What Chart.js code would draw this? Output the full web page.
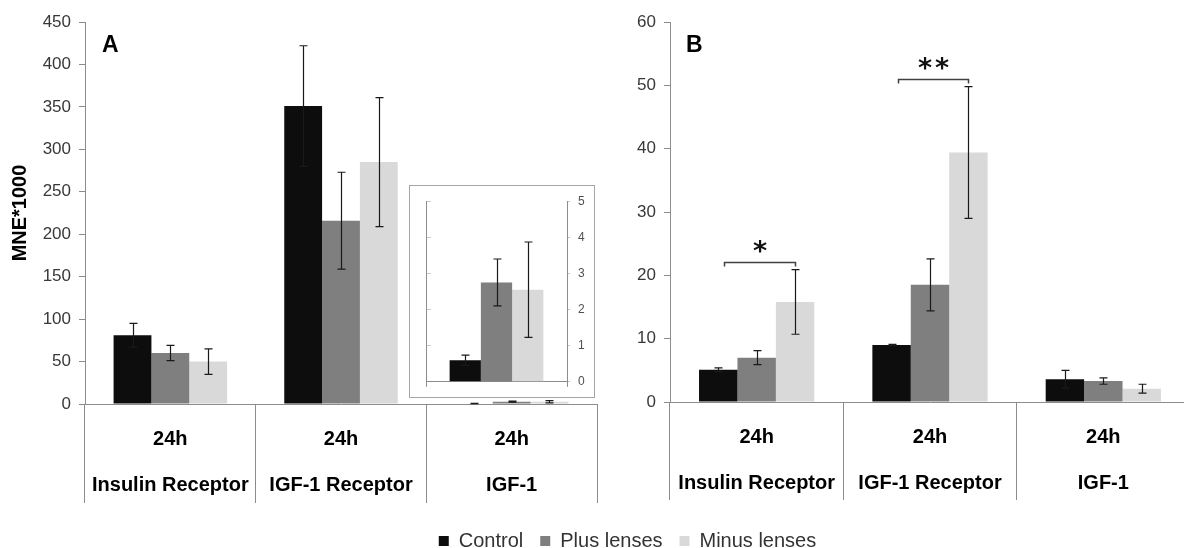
<!DOCTYPE html>
<html>
<head>
<meta charset="utf-8">
<script src="https://cdn.jsdelivr.net/npm/chart.js@4.4.1/dist/chart.umd.min.js"></script>
<style>
  html, body { margin: 0; padding: 0; background: #ffffff; overflow: hidden; width: 1184px; height: 548px; }
  #wrap { position: relative; width: 1184px; height: 548px; overflow: hidden; background: #ffffff; }
  .pane { position: absolute; }
  canvas { display: block; }
</style>
</head>
<body>
<div id="wrap">
  <div class="pane" style="left:0px;top:0px;"><canvas id="panelA" width="620" height="520"></canvas></div>
  <div class="pane" style="left:600px;top:0px;"><canvas id="panelB" width="600" height="520"></canvas></div>
  <div class="pane" style="left:409px;top:185px;border:1px solid #a6a6a6;background:#ffffff;"><canvas id="inset" width="184" height="211"></canvas></div>
  <div class="pane" style="left:240px;top:514px;"><canvas id="legend" width="775" height="90"></canvas></div>
</div>
<script>
// ---- categories and series ----
const categories = [['24h', 'Insulin Receptor'], ['24h', 'IGF-1 Receptor'], ['24h', 'IGF-1']];
const seriesNames = ['Control', 'Plus lenses', 'Minus lenses'];
const seriesColors = ['#0d0d0d', '#7f7f7f', '#d9d9d9'];

// ---- panel A: MNE*1000 (mean and error) ----
const controlA = [81, 351, 0.6];
const plusA = [60, 216, 2.75];
const minusA = [50, 285, 2.55];
const controlErrA = [14, 71, 0.14];
const plusErrA = [9, 57, 0.65];
const minusErrA = [15, 76, 1.32];

// ---- panel B (mean and error) ----
const controlB = [5.1, 9.0, 3.6];
const plusB = [7.0, 18.5, 3.3];
const minusB = [15.8, 39.4, 2.1];
const controlErrB = [0.3, 0.1, 1.4];
const plusErrB = [1.1, 4.1, 0.5];
const minusErrB = [5.1, 10.4, 0.7];

// ---- axis ticks ----
const ticksA = [0, 50, 100, 150, 200, 250, 300, 350, 400, 450];
const ticksB = [0, 10, 20, 30, 40, 50, 60];
const ticksInset = [0, 1, 2, 3, 4, 5];

// ---- significance brackets in panel B (Control vs Minus lenses) ----
const sigCategory = [0, 1];
const sigLevel = [22.1, 51.0];
const sigTextLevel = [24.1, 53.1];
const sigLabel = ['*', '**'];

Chart.defaults.font.family = "'Liberation Sans', Arial, sans-serif";
Chart.defaults.animation = false;
Chart.defaults.responsive = false;
Chart.defaults.events = [];
Chart.defaults.plugins.tooltip.enabled = false;

const AXIS_GREY = '#8c8c8c';

function makeDatasets(values, errors) {
  return seriesNames.map((name, i) => ({
    label: name,
    data: values[i],
    errors: errors[i],
    backgroundColor: seriesColors[i],
    borderWidth: 0,
    categoryPercentage: 0.665,
    barPercentage: 1.0
  }));
}

// vertical error bars with caps, from each dataset's "errors" array
const errorBars = {
  id: 'errorBars',
  afterDatasetsDraw(chart, args, opts) {
    const ctx = chart.ctx;
    ctx.save();
    ctx.strokeStyle = opts.color || '#1a1a1a';
    ctx.lineWidth = opts.width || 1.2;
    chart.data.datasets.forEach((ds, i) => {
      if (!ds.errors) return;
      const meta = chart.getDatasetMeta(i);
      const yScale = chart.scales[meta.yAxisID];
      meta.data.forEach((bar, j) => {
        const v = ds.data[j], e = ds.errors[j];
        const yt = yScale.getPixelForValue(v + e);
        const yb = yScale.getPixelForValue(v - e);
        const x = Math.round(bar.x) + 0.5;
        const c = opts.cap || 4;
        ctx.beginPath();
        ctx.moveTo(x, yt); ctx.lineTo(x, yb);
        ctx.moveTo(x - c, yt); ctx.lineTo(x + c, yt);
        ctx.moveTo(x - c, yb); ctx.lineTo(x + c, yb);
        ctx.stroke();
      });
    });
    ctx.restore();
  }
};

// panel letter in the upper left of the plot area
const panelLetter = {
  id: 'panelLetter',
  afterDraw(chart, args, opts) {
    const ctx = chart.ctx;
    const a = chart.chartArea;
    ctx.save();
    ctx.fillStyle = '#000';
    ctx.font = "bold 23px 'Liberation Sans', Arial, sans-serif";
    ctx.textBaseline = 'middle';
    ctx.textAlign = 'left';
    ctx.fillText(opts.text, a.left + opts.dx, a.top + opts.dy);
    ctx.restore();
  }
};

// brackets with asterisks between Control and Minus lenses
const sigBrackets = {
  id: 'sigBrackets',
  afterDatasetsDraw(chart) {
    const ctx = chart.ctx;
    const y = chart.scales.y;
    const first = chart.getDatasetMeta(0);
    const last = chart.getDatasetMeta(2);
    ctx.save();
    sigCategory.forEach((c, k) => {
      const x1 = Math.round(first.data[c].x + 6) + 0.5;
      const x2 = Math.round(last.data[c].x) + 0.5;
      const yy = Math.round(y.getPixelForValue(sigLevel[k])) + 0.5;
      ctx.strokeStyle = '#404040';
      ctx.lineWidth = 1.5;
      ctx.beginPath();
      ctx.moveTo(x1, yy + 4); ctx.lineTo(x1, yy); ctx.lineTo(x2, yy); ctx.lineTo(x2, yy + 4);
      ctx.stroke();
      ctx.fillStyle = '#111';
      ctx.font = "bold 27px 'DejaVu Sans', sans-serif";
      ctx.textAlign = 'center';
      ctx.textBaseline = 'middle';
      ctx.letterSpacing = sigLabel[k].length > 1 ? '3px' : '0px';
      const tx = (x1 + x2) / 2 + (sigLabel[k].length > 1 ? 1.5 : 0);
      ctx.fillText(sigLabel[k], tx, y.getPixelForValue(sigTextLevel[k]) + 4);
    });
    ctx.restore();
  }
};

function panelOptions(tickValues, leftWidth, bottomHeight, tickLen, showTitle, letter) {
  return {
    layout: { padding: { top: 22, left: 0, right: letter === 'A' ? 23 : 10, bottom: 0 } },
    scales: {
      x: {
        type: 'category',
        offset: true,
        grid: { display: true, offset: true, drawOnChartArea: false, tickLength: tickLen, color: AXIS_GREY, lineWidth: 1 },
        border: { color: AXIS_GREY, width: 1 },
        ticks: {
          autoSkip: false, maxRotation: 0, minRotation: 0,
          padding: 12 - tickLen,
          color: '#000',
          font: { size: 20, weight: 'bold', lineHeight: 2.3 }
        },
        afterFit(s) { s.height = bottomHeight; }
      },
      y: {
        min: tickValues[0],
        max: tickValues[tickValues.length - 1],
        afterBuildTicks(s) { s.ticks = tickValues.map(v => ({ value: v })); },
        grid: { display: true, drawOnChartArea: false, tickLength: 6, color: AXIS_GREY },
        border: { color: AXIS_GREY, width: 1 },
        ticks: { padding: 8, color: '#383838', font: { size: 17 } },
        title: {
          display: showTitle, text: 'MNE*1000', color: '#000',
          font: { size: 20, weight: 'bold' }, padding: { top: 8, bottom: 0 }
        },
        afterFit(s) { s.width = leftWidth; }
      }
    },
    plugins: {
      legend: { display: false },
      errorBars: { cap: 4, color: '#1a1a1a', width: 1.2 },
      panelLetter: { text: letter, dx: letter === 'A' ? 17 : 16, dy: 24 }
    }
  };
}

// Panel A
new Chart(document.getElementById('panelA'), {
  type: 'bar',
  data: {
    labels: categories,
    datasets: makeDatasets([controlA, plusA, minusA], [controlErrA, plusErrA, minusErrA])
  },
  options: panelOptions(ticksA, 85, 520 - 404, 99, true, 'A'),
  plugins: [errorBars, panelLetter]
});

// Panel B
new Chart(document.getElementById('panelB'), {
  type: 'bar',
  data: {
    labels: categories,
    datasets: makeDatasets([controlB, plusB, minusB], [controlErrB, plusErrB, minusErrB])
  },
  options: panelOptions(ticksB, 70, 520 - 402, 98, false, 'B'),
  plugins: [errorBars, panelLetter, sigBrackets]
});

// Inset: IGF-1 of panel A on its own scale
new Chart(document.getElementById('inset'), {
  type: 'bar',
  data: {
    labels: [categories[2]],
    datasets: makeDatasets(
      [[controlA[2]], [plusA[2]], [minusA[2]]],
      [[controlErrA[2]], [plusErrA[2]], [minusErrA[2]]]
    ).map(d => Object.assign(d, { yAxisID: 'y' }))
  },
  options: {
    layout: { padding: { top: 15, left: 0, right: 0, bottom: 0 } },
    scales: {
      x: {
        offset: true,
        grid: { display: true, offset: true, drawOnChartArea: false, tickLength: 5, color: AXIS_GREY },
        border: { color: AXIS_GREY },
        ticks: { display: false },
        afterFit(s) { s.height = 15; }
      },
      y: {
        position: 'left',
        min: 0, max: 5,
        afterBuildTicks(s) { s.ticks = ticksInset.map(v => ({ value: v })); },
        grid: { display: true, drawOnChartArea: false, tickLength: -5, color: '#c8c8c8' },
        border: { color: AXIS_GREY },
        ticks: { display: false },
        afterFit(s) { s.width = 16; }
      },
      y2: {
        position: 'right',
        min: 0, max: 5,
        afterBuildTicks(s) { s.ticks = ticksInset.map(v => ({ value: v })); },
        grid: { display: true, drawOnChartArea: false, tickLength: 3, color: '#c8c8c8' },
        border: { color: AXIS_GREY },
        ticks: { padding: 8, color: '#505050', font: { size: 12 } },
        afterFit(s) { s.width = 27; }
      }
    },
    plugins: { legend: { display: false }, errorBars: { cap: 4, color: '#1a1a1a', width: 1.2 } }
  },
  plugins: [errorBars]
});

// Shared legend below both panels
new Chart(document.getElementById('legend'), {
  type: 'bar',
  data: {
    labels: ['-'],
    datasets: seriesNames.map((name, i) => ({ label: name, data: [0], backgroundColor: seriesColors[i], borderWidth: 0 }))
  },
  options: {
    layout: { padding: 0 },
    scales: { x: { display: false }, y: { display: false, min: 0, max: 1 } },
    plugins: {
      legend: {
        display: true,
        position: 'top',
        labels: { boxWidth: 10, boxHeight: 10, padding: 17, color: '#333', font: { size: 20 } }
      }
    }
  }
});
</script>
</body>
</html>
